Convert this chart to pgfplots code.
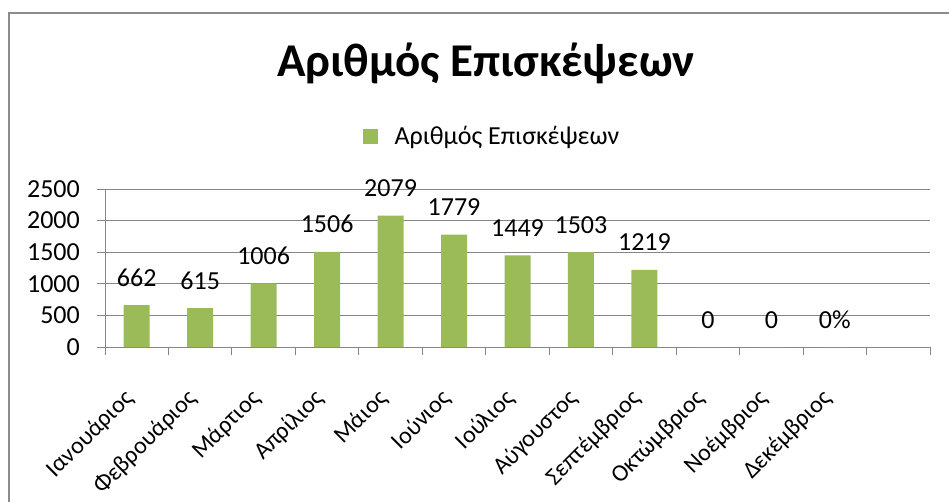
\documentclass[border=0pt]{standalone}
\usepackage{fontspec}
\setmainfont{Carlito}
\usepackage{pgfplots}
\pgfplotsset{compat=1.18}
\definecolor{bargreen}{HTML}{9BBB59}
\definecolor{gridgray}{HTML}{868686}
\definecolor{framegray}{HTML}{8C8C8C}
\begin{document}
\begin{tikzpicture}[x=1pt,y=1pt]
\useasboundingbox (0pt,0pt) rectangle (949pt,501pt);
\draw[framegray, line width=2pt] (9pt,-20pt) -- (9pt,488pt) -- (970pt,488pt);
\node[font=\fontsize{47}{50}\selectfont\bfseries, anchor=base, inner sep=0pt] at (486pt,424pt) {Αριθμός Επισκέψεων};
\begin{axis}[
    at={(105pt,154pt)}, anchor=south west,
    scale only axis, width=825pt, height=158pt,
    xmin=-0.5, xmax=12.5, ymin=0, ymax=2500,
    ytick={0,500,...,2500},
    xtick={0,...,11},
    xticklabels={Ιανουάριος,Φεβρουάριος,Μάρτιος,Απρίλιος,Μάιος,Ιούνιος,Ιούλιος,Αύγουστος,Σεπτέμβριος,Οκτώμβριος,Νοέμβριος,Δεκέμβριος},
    minor xtick={-0.5,0.5,...,12.5},
    major x tick style={draw=none},
    tick align=outside, major tick length=8pt, minor tick length=8pt,
    tick style={gridgray, line width=1pt},
    axis x line*=bottom, axis y line*=left,
    axis line style={gridgray, line width=1pt},
    ymajorgrids, major grid style={gridgray, line width=1pt},
    /pgf/number format/assume math mode=true,
    /pgf/number format/1000 sep={},
    yticklabel style={font=\fontsize{26}{30}\selectfont, anchor=east, inner sep=0pt, xshift=-17pt},
    xticklabel style={font=\fontsize{24}{28}\selectfont, xshift=-7pt, yshift=-40pt, rotate=45, anchor=east, inner sep=0pt},
    legend style={at={(0.469,1.335)}, anchor=center, draw=none, fill=none,
        font=\fontsize{26}{30}\selectfont, column sep=15pt},
    legend image code/.code={\fill[bargreen] (0pt,-7.5pt) rectangle (15pt,7.5pt);},
]
\addplot[ybar, bar width=26pt, bar shift=0pt, fill=bargreen, draw=none,
    point meta=explicit symbolic, nodes near coords,
    nodes near coords style={font=\fontsize{26}{30}\selectfont, anchor=base, inner sep=0pt, yshift=19pt, black}]
coordinates {
    (0,662)[662] (1,615)[615] (2,1006)[1006] (3,1506)[1506]
    (4,2079)[2079] (5,1779)[1779] (6,1449)[1449] (7,1503)[1503]
    (8,1219)[1219] (9,0)[0] (10,0)[0] (11,0)[0\%]
};
\addlegendentry{Αριθμός Επισκέψεων}
\end{axis}
\end{tikzpicture}
\end{document}
